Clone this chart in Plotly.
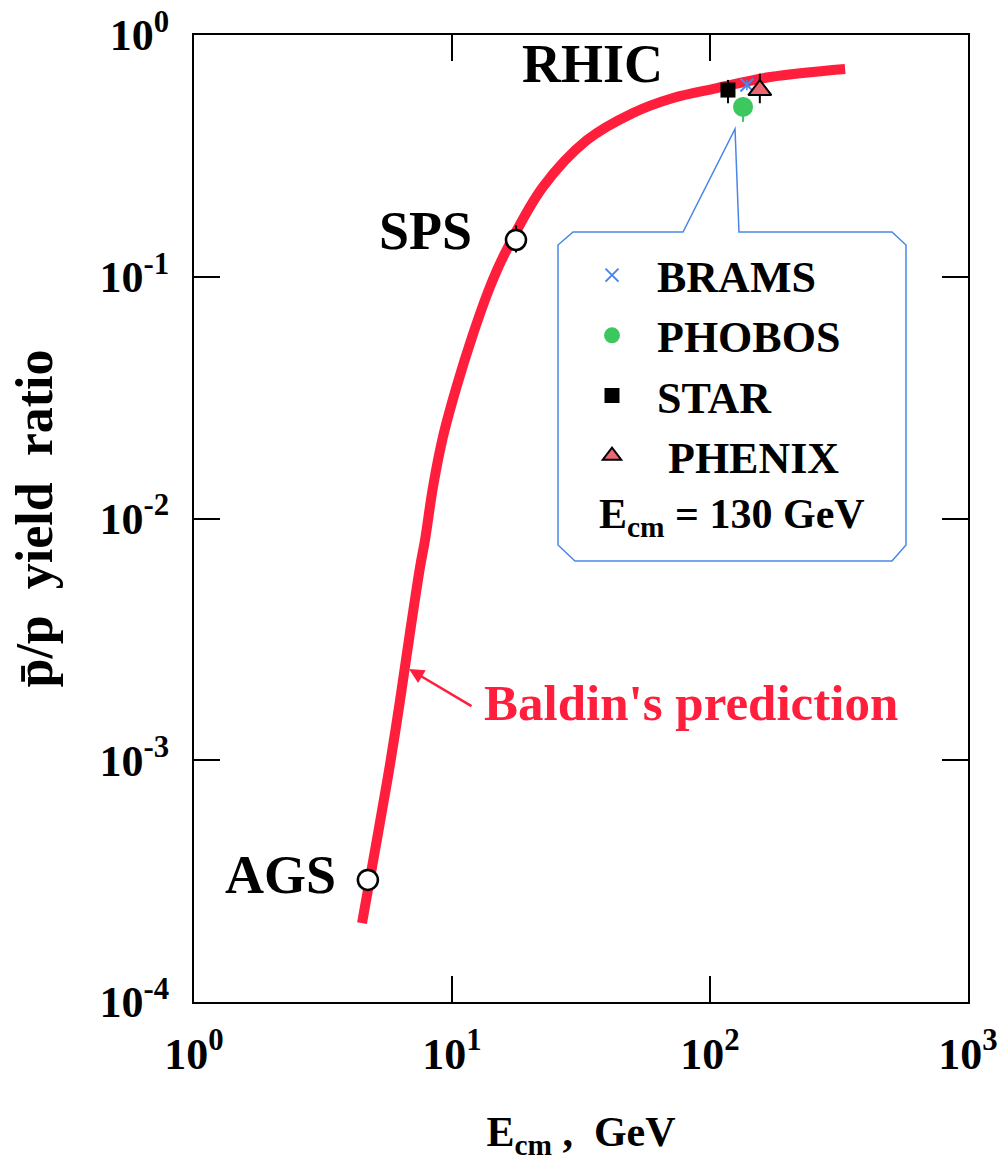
import plotly.graph_objects as go

# ---------------- data ----------------
curve_x = [4.48, 5.17, 5.75, 6.29, 6.87, 7.52, 7.86, 8.44, 9.23, 10.45, 11.96, 14.03,
           16.04, 22.5, 33.4, 50.3, 71.9, 106.4, 171, 334]
curve_y = [2.12e-4, 5.0e-4, 9.6e-4, 1.77e-3, 3.36e-3, 6.3e-3, 8.15e-3, 1.35e-2, 2.18e-2,
           3.55e-2, 5.63e-2, 9.07e-2, 0.125, 0.235, 0.368, 0.476, 0.549, 0.603, 0.670, 0.723]

ags_x, ags_y = [4.72], [3.2e-4]
sps_x, sps_y, sps_up, sps_dn = [17.7], [0.142], [0.021], [0.016]

brams_x, brams_y, brams_err = [139], [0.621], [0.03]
phobos_x, phobos_y, phobos_up, phobos_dn = [134.3], [0.504], [0.05], [0.067]
star_x, star_y, star_up, star_dn = [117.4], [0.592], [0.06], [0.07]
phenix_x, phenix_y, phenix_up, phenix_dn = [156], [0.592], [0.10], [0.07]

x_tickvals = [1, 10, 100, 1000]
x_ticktext = ["10<sup>0</sup>", "10<sup>1</sup>", "10<sup>2</sup>", "10<sup>3</sup>"]
y_tickvals = [1e-4, 1e-3, 1e-2, 1e-1, 1]
y_ticktext = ["10<sup>-4</sup>", "10<sup>-3</sup>", "10<sup>-2</sup>", "10<sup>-1</sup>", "10<sup>0</sup>"]

FONT = "Liberation Serif"
RED = "#FF1F3D"
BLUE = "#4A86E8"
GREEN = "#3CC85F"
PINK = "#EE6674"

# plot area in page pixels
L, R, T, B = 194, 968, 35, 1002
FIG_W, FIG_H = 1007, 1161


def px(x):
    return (x - L) / (R - L)


def py(y):
    return (B - y) / (B - T)


fig = go.Figure()

fig.add_trace(go.Scatter(x=curve_x, y=curve_y, mode="lines", line=dict(color=RED, width=10, shape="spline"),
                         showlegend=False, hoverinfo="skip"))

fig.add_trace(go.Scatter(x=ags_x, y=ags_y, mode="markers", showlegend=False,
                         marker=dict(symbol="circle", size=20, color="white", line=dict(color="black", width=2.5))))
fig.add_trace(go.Scatter(x=sps_x, y=sps_y, mode="markers", showlegend=False,
                         error_y=dict(type="data", symmetric=False, array=sps_up, arrayminus=sps_dn,
                                      color="black", thickness=2, width=0),
                         marker=dict(symbol="circle", size=20, color="white", line=dict(color="black", width=2.5))))

fig.add_trace(go.Scatter(x=star_x, y=star_y, mode="markers", name="STAR", legendrank=3,
                         error_y=dict(type="data", symmetric=False, array=star_up, arrayminus=star_dn,
                                      color="black", thickness=2, width=0),
                         marker=dict(symbol="square", size=15, color="black")))
fig.add_trace(go.Scatter(x=phobos_x, y=phobos_y, mode="markers", name="PHOBOS", legendrank=2,
                         error_y=dict(type="data", symmetric=False, array=phobos_up, arrayminus=phobos_dn,
                                      color=GREEN, thickness=2, width=0),
                         marker=dict(symbol="circle", size=20, color=GREEN)))
fig.add_trace(go.Scatter(x=brams_x, y=brams_y, mode="markers", name="BRAMS", legendrank=1,
                         error_y=dict(type="data", array=brams_err, color=BLUE, thickness=1.5, width=0),
                         marker=dict(symbol="x-thin", size=13, color=BLUE, line=dict(color=BLUE, width=2))))
fig.add_trace(go.Scatter(x=phenix_x, y=phenix_y, mode="markers", name="\u00a0PHENIX", legendrank=4,
                         error_y=dict(type="data", symmetric=False, array=phenix_up, arrayminus=phenix_dn,
                                      color="black", thickness=2, width=0),
                         marker=dict(symbol="triangle-up", size=20, color=PINK, line=dict(color="black", width=2))))

# callout box of the legend
pts = [(573, 232), (683, 232), (735, 129), (739, 232), (892, 232), (906, 245), (906, 545),
       (892, 561), (575, 561), (558, 545), (558, 245)]
path = "M " + " L ".join(f"{px(a):.4f},{py(b):.4f}" for a, b in pts) + " Z"
shapes = [dict(type="path", xref="paper", yref="paper", path=path,
               line=dict(color=BLUE, width=1.5), fillcolor="rgba(0,0,0,0)", layer="below")]

ann = []
def label(text, x, y, size, color="black"):
    ann.append(dict(text=text, xref="paper", yref="paper", x=px(x), y=py(y), showarrow=False,
                    xanchor="center", yanchor="middle",
                    font=dict(family=FONT, size=size, color=color, weight="bold")))

label("RHIC", 592, 64, 54)
label("SPS", 425, 231, 54)
label("AGS", 280, 875, 54)
label("Baldin's prediction", 691, 703, 51, RED)
label("E<sub>cm</sub> = 130 GeV", 732, 517, 42)

# arrow to the curve
ann.append(dict(text="", xref="paper", yref="paper", x=px(409), y=py(669),
                ax=64, ay=38, axref="pixel", ayref="pixel", showarrow=True,
                arrowhead=2, arrowsize=1.2, arrowwidth=2.5, arrowcolor=RED))

axis_common = dict(type="log", showgrid=False, zeroline=False, showline=True, linecolor="black",
                   linewidth=2, mirror="ticks", ticks="inside", ticklen=26, tickwidth=1.5,
                   tickcolor="black", automargin=False, ticklabeloverflow="allow",
                   tickfont=dict(family=FONT, size=44, color="black", weight="bold"))

fig.update_layout(
    width=FIG_W, height=FIG_H,
    margin=dict(l=L, r=FIG_W - R, t=T, b=FIG_H - B, autoexpand=False),
    paper_bgcolor="white", plot_bgcolor="white",
    xaxis=dict(range=[0, 3], tickvals=x_tickvals, ticktext=x_ticktext, ticklabelstandoff=12,
               title=dict(text="E<sub>cm</sub> ,  GeV", standoff=46,
                          font=dict(family=FONT, size=42, color="black", weight="bold")),
               **axis_common),
    yaxis=dict(range=[-4, 0], tickvals=y_tickvals, ticktext=y_ticktext, ticklabelstandoff=14,
               title=dict(text="p\u0304/p  yield  ratio", standoff=30,
                          font=dict(family=FONT, size=52, color="black", weight="bold")),
               **axis_common),
    showlegend=True,
    legend=dict(x=px(567), y=py(240), xanchor="left", yanchor="top", bgcolor="rgba(0,0,0,0)",
                itemwidth=80, traceorder="normal",
                font=dict(family=FONT, size=44, color="black", weight="bold")),
    shapes=shapes, annotations=ann,
)

# remove the default page margin so the figure fills the window exactly
fig.write_html("out.html", config={"displayModeBar": False},
               post_script="document.body.style.margin='0px';")
